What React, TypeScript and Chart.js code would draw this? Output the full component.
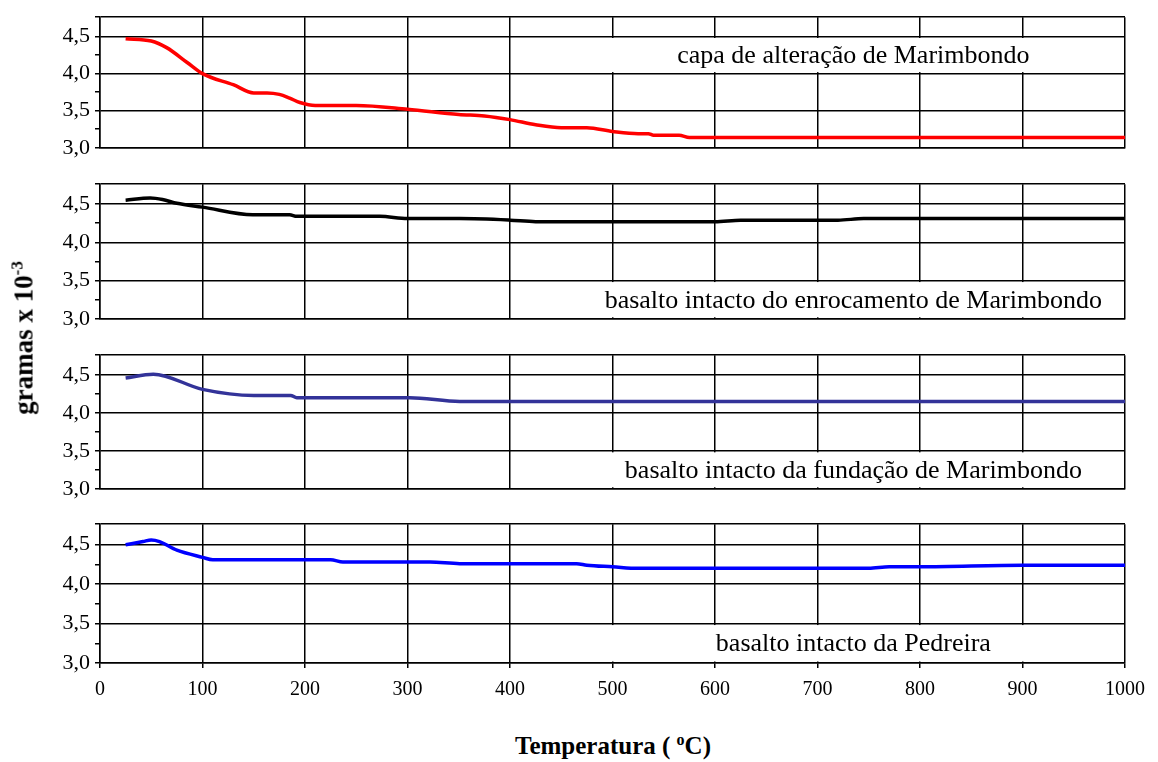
import React, { useEffect, useRef } from 'react';
import { Chart, registerables } from 'chart.js';

Chart.register(...registerables);

// ---- data ----
const temperatureTicks = [0, 100, 200, 300, 400, 500, 600, 700, 800, 900, 1000];
const yMajorValues = [3.0, 3.5, 4.0, 4.5];
const yTickLabels = ['3,0', '3,5', '4,0', '4,5'];
const yMinorValues = [3.25, 3.75, 4.25];
const yTop = 4.76;

const capaTemp = [25, 50, 65, 85, 100, 130, 150, 163, 175, 185, 195, 210, 250, 300, 350, 375, 400, 425, 450, 475, 500, 525, 535, 540, 565, 575, 600, 700, 800, 900, 1000];
const capaMass = [4.47, 4.44, 4.35, 4.15, 4.0, 3.85, 3.74, 3.74, 3.72, 3.67, 3.61, 3.57, 3.57, 3.52, 3.45, 3.43, 3.38, 3.31, 3.27, 3.27, 3.22, 3.19, 3.19, 3.17, 3.17, 3.14, 3.14, 3.14, 3.14, 3.14, 3.14];

const enrocTemp = [25, 49, 61, 75, 100, 149, 185, 192, 251, 273, 300, 351, 400, 425, 500, 600, 625, 720, 745, 800, 900, 1000];
const enrocMass = [4.55, 4.58, 4.56, 4.51, 4.46, 4.36, 4.36, 4.34, 4.34, 4.34, 4.31, 4.31, 4.29, 4.27, 4.27, 4.27, 4.29, 4.29, 4.31, 4.31, 4.31, 4.31];

const fundTemp = [25, 52, 100, 150, 186, 192, 302, 351, 400, 500, 600, 700, 800, 900, 1000];
const fundMass = [4.46, 4.51, 4.31, 4.23, 4.23, 4.2, 4.2, 4.15, 4.15, 4.15, 4.15, 4.15, 4.15, 4.15, 4.15];

const pedrTemp = [25, 42, 50, 58, 75, 100, 110, 225, 237, 322, 351, 465, 475, 500, 525, 600, 750, 770, 800, 900, 1000];
const pedrMass = [4.5, 4.54, 4.56, 4.54, 4.43, 4.34, 4.31, 4.31, 4.28, 4.28, 4.26, 4.26, 4.24, 4.22, 4.2, 4.2, 4.2, 4.22, 4.22, 4.24, 4.24];

const panelLabels = [
  'capa de alteração de Marimbondo',
  'basalto intacto do enrocamento de Marimbondo',
  'basalto intacto da fundação de Marimbondo',
  'basalto intacto da Pedreira',
];
const seriesColors = ['#ff0000', '#000000', '#333399', '#0000ff'];

const FONT = '"Liberation Serif", "Times New Roman", serif';

const labelBoxPlugin = {
  id: 'labelBox',
  beforeDatasetsDraw(chart: any, _args: any, opts: any) {
    if (!opts || !opts.text) return;
    const { ctx, chartArea } = chart;
    const x = chart.scales.x;
    const y = chart.scales.y;
    const left = x.getPixelForValue(opts.fromX);
    const right = chartArea.right - 1;
    const top = y.getPixelForValue(opts.high) + 1.5;
    const bottom = y.getPixelForValue(opts.low) - 1.5;
    ctx.save();
    ctx.fillStyle = '#ffffff';
    ctx.fillRect(left, top, right - left, bottom - top);
    ctx.fillStyle = '#000000';
    ctx.font = `26px ${FONT}`;
    ctx.textAlign = 'center';
    ctx.textBaseline = 'middle';
    ctx.fillText(opts.text, x.getPixelForValue(opts.centerX), (top + bottom) / 2 + 1);
    ctx.restore();
  },
};

type PanelProps = {
  temps: number[];
  values: number[];
  color: string;
  label: string;
  low: number;
  high: number;
  top: number;
  height: number;
  showX: boolean;
};

const isMinor = (v: number | undefined) =>
  v !== undefined && yMinorValues.some((m) => Math.abs(m - v) < 1e-6);

function Panel({ temps, values, color, label, low, high, top, height, showX }: PanelProps) {
  const ref = useRef<HTMLCanvasElement | null>(null);
  const padTop = 10;
  const padBottom = showX ? 0 : 10;
  const xAxisH = showX ? 40 : 0;
  const canvasH = padTop + height + padBottom + xAxisH;

  useEffect(() => {
    if (!ref.current) return;
    const chart = new Chart(ref.current, {
      type: 'line',
      data: {
        datasets: [
          {
            data: temps.map((t, i) => ({ x: t, y: values[i] })),
            borderColor: color,
            borderWidth: 3.5,
            pointRadius: 0,
            fill: false,
            cubicInterpolationMode: 'monotone',
          },
        ],
      },
      options: {
        animation: false,
        responsive: false,
        maintainAspectRatio: false,
        devicePixelRatio: 1,
        layout: { padding: { top: padTop, bottom: padBottom, left: 0, right: 33 } },
        plugins: {
          legend: { display: false },
          tooltip: { enabled: false },
          labelBox: { text: label, low, high, fromX: 450, centerX: 735 },
        } as any,
        scales: {
          x: {
            type: 'linear',
            min: 0,
            max: 1000,
            afterBuildTicks: (a: any) => {
              a.ticks = temperatureTicks.map((v) => ({ value: v }));
            },
            grid: { color: '#000', lineWidth: 1.5, drawTicks: showX, tickLength: 5, tickColor: '#000' },
            border: { color: '#000', width: 1.5 },
            ticks: {
              display: showX,
              color: '#000',
              font: { family: FONT, size: 20 },
              maxRotation: 0,
              autoSkip: false,
              padding: 10,
              callback: (v: any) => String(v),
            },
            afterFit: (s: any) => {
              s.height = xAxisH;
            },
          },
          y: {
            type: 'linear',
            min: 3.0,
            max: yTop,
            afterBuildTicks: (a: any) => {
              const vals = [...yMajorValues, ...yMinorValues, yTop].sort((p, q) => p - q);
              a.ticks = vals.map((v) => ({ value: v }));
            },
            grid: {
              color: (ctx: any) => (isMinor(ctx.tick?.value) ? 'rgba(0,0,0,0)' : '#000'),
              tickColor: '#000',
              lineWidth: 1.5,
              tickLength: 5,
            },
            border: { color: '#000', width: 1.5 },
            ticks: {
              color: '#000',
              autoSkip: false,
              font: { family: FONT, size: 22 },
              padding: 5,
              callback: (v: any) => {
                const i = yMajorValues.findIndex((m) => Math.abs(m - v) < 1e-6);
                return i >= 0 ? yTickLabels[i] : '';
              },
            },
            afterFit: (s: any) => {
              s.width = 100;
            },
          },
        },
      } as any,
      plugins: [labelBoxPlugin as any],
    });
    return () => chart.destroy();
  }, []);

  return (
    <canvas
      ref={ref}
      width={1158}
      height={canvasH}
      style={{ position: 'absolute', left: 0, top: top - padTop, width: 1158, height: canvasH }}
    />
  );
}

export default function App() {
  return (
    <div
      style={{
        position: 'absolute',
        left: 0,
        top: 0,
        width: 1158,
        height: 762,
        background: '#fff',
        overflow: 'hidden',
      }}
    >
      <Panel temps={capaTemp} values={capaMass} color={seriesColors[0]} label={panelLabels[0]} low={4.0} high={4.5} top={9} height={147} showX={false} />
      <Panel temps={enrocTemp} values={enrocMass} color={seriesColors[1]} label={panelLabels[1]} low={3.0} high={3.5} top={176} height={151} showX={false} />
      <Panel temps={fundTemp} values={fundMass} color={seriesColors[2]} label={panelLabels[2]} low={3.0} high={3.5} top={347} height={150} showX={false} />
      <Panel temps={pedrTemp} values={pedrMass} color={seriesColors[3]} label={panelLabels[3]} low={3.0} high={3.5} top={516} height={147} showX={true} />
      <div
        style={{
          position: 'absolute',
          left: 23,
          top: 338,
          transform: 'translate(-50%, -50%) rotate(-90deg)',
          whiteSpace: 'nowrap',
          fontFamily: FONT,
          fontWeight: 'bold',
          fontSize: 27,
          color: '#000',
          lineHeight: 1,
        }}
      >
        gramas x 10<sup style={{ fontSize: 17, verticalAlign: 'super' }}>-3</sup>
      </div>
      <div
        style={{
          position: 'absolute',
          left: 613,
          top: 745,
          transform: 'translate(-50%, -50%)',
          whiteSpace: 'nowrap',
          fontFamily: FONT,
          fontWeight: 'bold',
          fontSize: 25,
          color: '#000',
          lineHeight: 1,
        }}
      >
        Temperatura ( <sup style={{ fontSize: 16 }}>o</sup>C)
      </div>
    </div>
  );
}
